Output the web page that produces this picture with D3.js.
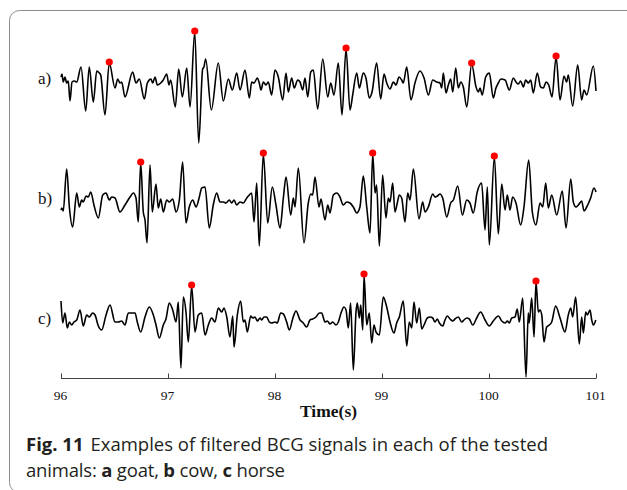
<!DOCTYPE html>
<html><head><meta charset="utf-8">
<script src="https://cdn.jsdelivr.net/npm/d3@7"></script>
<style>html,body{margin:0;padding:0;background:#fff;}svg{display:block;}</style>
</head><body>
<svg id="chart" width="627" height="490"></svg>
<script>
// ---- data (time in s, amplitude in arbitrary units) ----
const ticks = [96, 97, 98, 99, 100, 101];
const panelLabels = ["a)", "b)", "c)"];

const goat = [[96.000,3],[96.009,6],[96.021,-2],[96.037,3],[96.053,-3],[96.068,-1],[96.084,-21],[96.103,-2],[96.124,-1],[96.147,-2],[96.187,13],[96.231,-31],[96.264,13],[96.302,-22],[96.334,9],[96.358,7],[96.371,5],[96.411,-35],[96.451,17],[96.505,-8],[96.530,1],[96.551,-3],[96.567,-2],[96.598,-17],[96.670,8],[96.701,-3],[96.732,1],[96.779,-19],[96.807,-3],[96.841,1],[96.857,-3],[96.879,3],[96.900,-5],[96.932,-3],[96.956,0],[96.988,6],[97.009,-5],[97.025,0],[97.068,-27],[97.100,11],[97.134,-17],[97.175,12],[97.206,-27],[97.250,48],[97.287,-63],[97.324,11],[97.336,13],[97.352,21],[97.405,-30],[97.470,17],[97.517,-21],[97.564,1],[97.601,-10],[97.642,7],[97.673,-10],[97.720,10],[97.760,-18],[97.782,-2],[97.804,-3],[97.835,2],[97.853,-3],[97.869,-10],[97.891,-2],[97.916,-5],[97.937,-2],[97.969,-15],[98.000,10],[98.031,3],[98.072,-20],[98.103,7],[98.124,-12],[98.156,2],[98.180,-8],[98.212,0],[98.234,-2],[98.259,-10],[98.280,2],[98.306,-17],[98.334,8],[98.358,10],[98.399,-29],[98.446,21],[98.493,-17],[98.521,-3],[98.551,-15],[98.592,17],[98.626,-35],[98.664,31],[98.701,-30],[98.726,-15],[98.764,7],[98.788,-8],[98.825,7],[98.850,2],[98.881,-18],[98.907,-12],[98.950,17],[98.988,-19],[99.019,6],[99.044,-3],[99.075,-9],[99.106,-2],[99.131,-5],[99.159,3],[99.184,0],[99.199,-3],[99.231,13],[99.271,-20],[99.308,-3],[99.355,9],[99.393,2],[99.433,-15],[99.474,0],[99.511,-2],[99.542,-3],[99.558,-8],[99.573,7],[99.598,-13],[99.620,-5],[99.642,1],[99.661,-12],[99.689,12],[99.713,-8],[99.736,-2],[99.760,-7],[99.792,-27],[99.838,16],[99.879,-7],[99.900,-12],[99.916,-8],[99.937,-15],[99.969,3],[100.003,7],[100.040,-18],[100.065,-8],[100.087,-3],[100.112,1],[100.150,0],[100.190,-10],[100.227,2],[100.252,-2],[100.274,-4],[100.296,-1],[100.321,-7],[100.343,0],[100.367,-3],[100.390,0],[100.414,-13],[100.451,7],[100.483,-7],[100.508,-8],[100.533,-2],[100.558,-5],[100.589,-17],[100.627,23],[100.664,-20],[100.701,4],[100.726,-2],[100.741,5],[100.782,-26],[100.829,15],[100.866,-20],[100.888,-10],[100.913,-15],[100.975,14],[101.000,-11]];

const cow = [[96.000,-10],[96.007,-8],[96.021,-11],[96.053,31],[96.078,-7],[96.109,-27],[96.147,7],[96.171,-7],[96.193,0],[96.208,-2],[96.234,4],[96.255,3],[96.278,8],[96.308,-5],[96.349,-18],[96.390,5],[96.421,7],[96.451,0],[96.474,3],[96.505,2],[96.551,-12],[96.598,-5],[96.645,3],[96.676,7],[96.701,2],[96.722,-22],[96.745,37],[96.769,-12],[96.785,-20],[96.804,-43],[96.832,35],[96.853,-12],[96.888,16],[96.909,-8],[96.932,1],[96.956,-12],[96.988,0],[97.012,-2],[97.044,1],[97.075,-12],[97.106,0],[97.137,38],[97.168,-23],[97.199,-7],[97.231,0],[97.262,-7],[97.293,3],[97.315,12],[97.346,13],[97.386,-28],[97.423,-5],[97.455,7],[97.486,-2],[97.517,-2],[97.542,-3],[97.573,0],[97.595,-3],[97.617,0],[97.642,-5],[97.673,-2],[97.704,-3],[97.736,2],[97.760,5],[97.782,7],[97.804,-22],[97.829,17],[97.853,-46],[97.891,46],[97.932,-23],[97.975,13],[98.009,-5],[98.047,-28],[98.078,2],[98.103,23],[98.147,-15],[98.171,2],[98.187,-7],[98.218,32],[98.271,-43],[98.311,-3],[98.334,6],[98.352,5],[98.374,23],[98.411,-7],[98.430,1],[98.467,-20],[98.493,-5],[98.514,-13],[98.545,5],[98.577,7],[98.607,3],[98.638,-5],[98.670,-2],[98.701,-3],[98.732,-7],[98.764,-13],[98.794,-7],[98.825,24],[98.857,-7],[98.888,-33],[98.913,46],[98.935,7],[98.950,15],[98.975,-46],[99.006,25],[99.037,-18],[99.059,2],[99.075,-2],[99.100,17],[99.121,-12],[99.143,-3],[99.162,5],[99.184,2],[99.215,-22],[99.240,7],[99.262,0],[99.293,31],[99.346,-19],[99.380,-2],[99.402,-12],[99.433,-7],[99.474,6],[99.495,3],[99.517,4],[99.542,6],[99.567,2],[99.605,-17],[99.642,-3],[99.667,0],[99.708,14],[99.751,-15],[99.792,0],[99.822,-3],[99.853,-13],[99.890,8],[99.931,17],[99.963,-30],[99.984,13],[100.003,-45],[100.050,43],[100.087,-34],[100.119,16],[100.150,-10],[100.171,5],[100.196,-10],[100.221,3],[100.252,-3],[100.296,-25],[100.327,-7],[100.371,40],[100.405,-12],[100.439,-25],[100.477,-3],[100.502,-7],[100.530,17],[100.554,-8],[100.586,5],[100.633,-15],[100.685,9],[100.720,-28],[100.764,21],[100.788,-2],[100.813,-7],[100.835,-5],[100.866,-1],[100.888,-11],[100.913,-7],[100.950,2],[100.981,12],[101.000,8]];

const horse = [[96.000,19],[96.016,-3],[96.037,7],[96.059,-8],[96.078,-2],[96.100,-5],[96.121,-2],[96.147,0],[96.178,10],[96.208,-6],[96.240,5],[96.264,3],[96.296,7],[96.318,5],[96.349,-6],[96.380,-10],[96.421,5],[96.458,15],[96.505,-2],[96.536,-2],[96.567,-1],[96.598,-5],[96.629,7],[96.661,7],[96.692,7],[96.713,-2],[96.745,-12],[96.785,3],[96.825,13],[96.863,5],[96.888,-5],[96.919,-18],[96.956,-5],[96.981,1],[97.012,17],[97.044,10],[97.075,-2],[97.096,18],[97.121,-48],[97.143,23],[97.168,8],[97.190,-22],[97.221,34],[97.252,-12],[97.283,5],[97.315,7],[97.346,-15],[97.377,-5],[97.408,2],[97.439,-2],[97.470,12],[97.502,8],[97.523,12],[97.549,3],[97.579,-17],[97.605,4],[97.617,-27],[97.648,5],[97.679,19],[97.704,-2],[97.720,0],[97.741,-12],[97.773,4],[97.792,2],[97.813,3],[97.835,-1],[97.860,2],[97.876,0],[97.897,3],[97.922,3],[97.947,-2],[97.969,-3],[98.000,-2],[98.021,-3],[98.053,7],[98.078,6],[98.109,-2],[98.134,-10],[98.165,1],[98.196,9],[98.234,0],[98.264,-3],[98.296,-7],[98.327,0],[98.352,1],[98.383,3],[98.414,7],[98.436,7],[98.467,-2],[98.489,-1],[98.514,-4],[98.539,-2],[98.570,-5],[98.592,-2],[98.617,7],[98.645,13],[98.664,10],[98.685,-8],[98.707,17],[98.732,-50],[98.757,8],[98.769,17],[98.788,2],[98.801,15],[98.820,-10],[98.832,45],[98.857,-5],[98.881,7],[98.904,-23],[98.925,-5],[98.944,-12],[98.975,-15],[99.012,23],[99.044,13],[99.075,-2],[99.112,-13],[99.137,-3],[99.162,3],[99.199,19],[99.231,-26],[99.255,-2],[99.278,-8],[99.299,18],[99.324,-3],[99.349,12],[99.371,-9],[99.393,-5],[99.423,2],[99.449,3],[99.474,2],[99.495,-2],[99.517,1],[99.536,-3],[99.567,-6],[99.589,0],[99.610,4],[99.636,1],[99.661,-1],[99.682,1],[99.713,3],[99.745,-2],[99.766,0],[99.792,2],[99.816,1],[99.848,-5],[99.885,2],[99.922,8],[99.963,0],[100.003,-6],[100.040,-1],[100.087,4],[100.119,-1],[100.150,-3],[100.171,-1],[100.190,-3],[100.212,2],[100.243,3],[100.264,11],[100.283,-2],[100.315,22],[100.346,-57],[100.367,7],[100.376,-3],[100.399,22],[100.421,-17],[100.439,38],[100.461,8],[100.477,10],[100.493,5],[100.514,-22],[100.539,-7],[100.564,-5],[100.586,-2],[100.623,14],[100.664,2],[100.710,-12],[100.741,5],[100.764,12],[100.782,3],[100.810,23],[100.844,-24],[100.866,3],[100.882,-13],[100.904,8],[100.919,5],[100.944,10],[100.960,0],[100.975,-5],[100.998,0]];

const goatPeaks  = [[96.451,17],[97.250,48],[98.664,31],[99.838,16],[100.627,23]];
const cowPeaks   = [[96.745,37],[97.891,46],[98.913,46],[100.050,43]];
const horsePeaks = [[97.221,34],[98.832,45],[100.439,38]];

// ---- drawing ----
const svg = d3.select("#chart");
const serif = "'Liberation Serif', 'Times New Roman', serif";
const sans = "'Open Sans', 'Noto Sans', sans-serif";

// figure frame
svg.append("rect").attr("x", 9.5).attr("y", 10.5).attr("width", 700).attr("height", 482)
  .attr("rx", 10).attr("ry", 10).attr("fill", "none").attr("stroke", "#8c8c8c").attr("stroke-width", 1);

const x = d3.scaleLinear().domain([96, 101]).range([61, 596]);

const panels = [
  {data: goat, peaks: goatPeaks, base: 80},
  {data: cow, peaks: cowPeaks, base: 200},
  {data: horse, peaks: horsePeaks, base: 320}
];

panels.forEach((p, i) => {
  const y = d3.scaleLinear().domain([-60, 60]).range([p.base + 60, p.base - 60]);
  const line = d3.line().x(d => x(d[0])).y(d => y(d[1])).curve(d3.curveMonotoneX);
  svg.append("path").datum(p.data).attr("d", line)
    .attr("fill", "none").attr("stroke", "#000").attr("stroke-width", 1.6).attr("stroke-linejoin", "round");
  svg.selectAll(null).data(p.peaks).enter().append("circle")
    .attr("cx", d => x(d[0])).attr("cy", d => y(d[1]) - 1).attr("r", 3.6).attr("fill", "#ff0000");
  svg.append("text").attr("x", 38).attr("y", p.base + 4)
    .attr("font-family", serif).attr("font-size", 17)
    .attr("fill", "#111").text(panelLabels[i]);
});

// x axis with inward ticks
const axis = d3.axisBottom(x).tickValues(ticks).tickSize(-5).tickPadding(12).tickFormat(d3.format("d"));
const gAxis = svg.append("g").attr("transform", "translate(0,378.5)").call(axis);
gAxis.select(".domain").attr("stroke", "#444").attr("d", "M61,0H596");
gAxis.selectAll(".tick line").attr("stroke", "#444");
gAxis.selectAll(".tick text").attr("font-family", serif)
  .attr("font-size", 13.5).attr("fill", "#111").attr("dx", -1);

svg.append("text").attr("x", 328.5).attr("y", 417).attr("text-anchor", "middle")
  .attr("font-family", serif).attr("font-weight", "bold")
  .attr("font-size", 17.5).attr("fill", "#111").text("Time(s)");

// caption
const cap1 = svg.append("text").attr("x", 26).attr("y", 450.5)
  .attr("font-family", sans).attr("font-size", 18.5).attr("fill", "#231f20")
  .attr("textLength", 522).attr("lengthAdjust", "spacing");
cap1.append("tspan").attr("font-weight", "bold").text("Fig. 11");
cap1.append("tspan").attr("dx", 7).text("Examples of filtered BCG signals in each of the tested");

const cap2 = svg.append("text").attr("x", 26).attr("y", 477)
  .attr("font-family", sans).attr("font-size", 18.5).attr("fill", "#231f20")
  .attr("textLength", 259).attr("lengthAdjust", "spacing");
cap2.append("tspan").text("animals: ");
cap2.append("tspan").attr("font-weight", "bold").text("a");
cap2.append("tspan").text(" goat, ");
cap2.append("tspan").attr("font-weight", "bold").text("b");
cap2.append("tspan").text(" cow, ");
cap2.append("tspan").attr("font-weight", "bold").text("c");
cap2.append("tspan").text(" horse");
</script>
</body></html>
